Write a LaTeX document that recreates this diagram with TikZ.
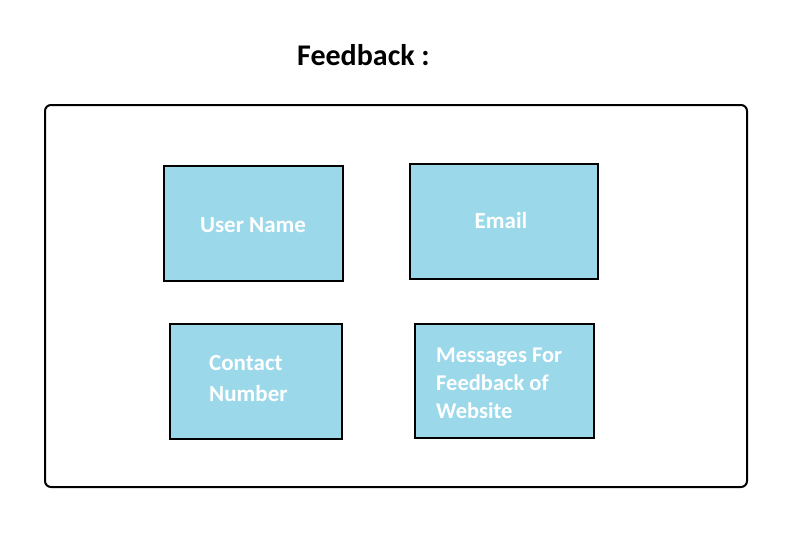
\documentclass[tikz,border=0pt]{standalone}
\usepackage{fontspec}
\setmainfont{Carlito}
\definecolor{fieldblue}{HTML}{9BD9EA}
\begin{document}
\begin{tikzpicture}[x=1pt,y=-1pt,
  field/.style={draw=black, line width=1.2pt, fill=fieldblue},
  fieldtext/.style={text=white, font=\bfseries\fontsize{23}{27}\selectfont, inner sep=0pt},
  fieldleft/.style={fieldtext, anchor=west, align=left}]
\useasboundingbox (0,0) rectangle (792,552);
% page title
\node[font=\bfseries\fontsize{30}{36}\selectfont, anchor=west, inner sep=0pt] (title) at (297,55) {Feedback :};
% form frame
\draw[line width=2pt, rounded corners=6pt] (45,105) rectangle (747,487);
% input fields
\draw[field] (164,166) rectangle (343,281);
\node[fieldtext] (uname) at (253,225) {User Name};
\draw[field] (410,164) rectangle (598,279);
\node[fieldtext] (email) at (501,221) {Email};
\draw[field] (170,324) rectangle (342,439);
\node[fieldleft, font=\bfseries\fontsize{23}{31}\selectfont] (contact) at (209,379) {Contact\\Number};
\draw[field] (415,324) rectangle (594,438);
\node[fieldleft, font=\bfseries\fontsize{22.5}{28}\selectfont] (msg) at (436,383) {Messages For\\Feedback of\\Website};
\end{tikzpicture}
\end{document}
